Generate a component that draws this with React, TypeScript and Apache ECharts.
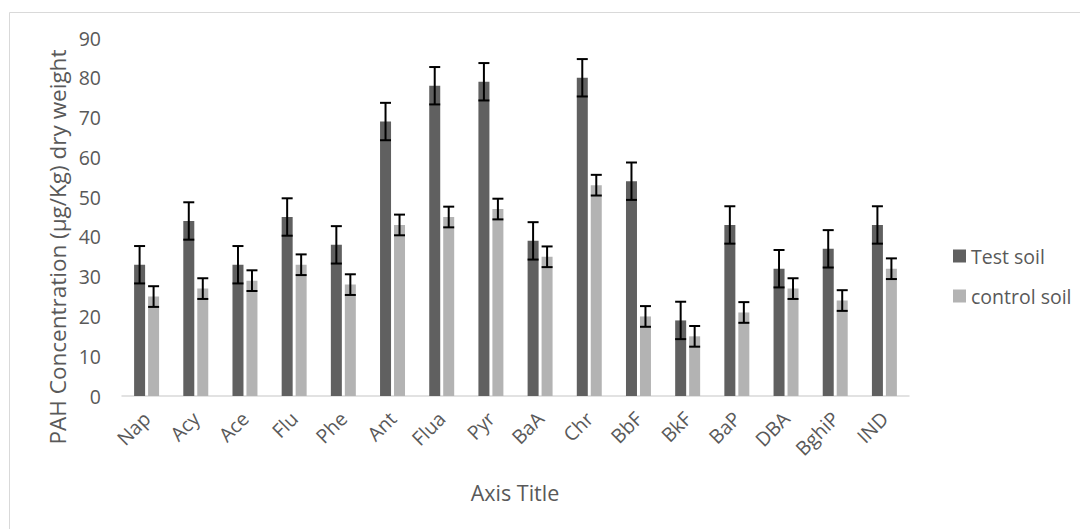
import React, { useEffect, useRef } from "react";
import * as echarts from "echarts";

const categories = ["Nap", "Acy", "Ace", "Flu", "Phe", "Ant", "Flua", "Pyr", "BaA", "Chr", "BbF", "BkF", "BaP", "DBA", "BghiP", "IND"];
const testSoil = [33, 44, 33, 45, 38, 69, 78, 79, 39, 80, 54, 19, 43, 32, 37, 43];
const controlSoil = [25, 27, 29, 33, 28, 43, 45, 47, 35, 53, 20, 15, 21, 27, 24, 32];
const testErr = [4.7, 4.7, 4.7, 4.7, 4.7, 4.7, 4.7, 4.7, 4.7, 4.7, 4.7, 4.7, 4.7, 4.7, 4.7, 4.7];
const controlErr = [2.6, 2.6, 2.6, 2.6, 2.6, 2.6, 2.6, 2.6, 2.6, 2.6, 2.6, 2.6, 2.6, 2.6, 2.6, 2.6];

const FONT = "'Open Sans', 'Noto Sans', sans-serif";
const TXT = "#595959";
const FS = 19.5;

function errorSeries(values: number[], errs: number[], offset: number) {
  return {
    type: "custom",
    silent: true,
    z: 10,
    encode: { x: 0, y: 1 },
    data: values.map((v, i) => [i, v, errs[i]]),
    renderItem: (params: any, api: any) => {
      const idx = api.value(0);
      const v = api.value(1);
      const e = api.value(2);
      const x = api.coord([idx, 0])[0] + offset;
      const yTop = api.coord([idx, v + e])[1];
      const yBot = api.coord([idx, v - e])[1];
      const half = 5.5;
      const style = { stroke: "#000", lineWidth: 2 };
      return {
        type: "group",
        children: [
          { type: "line", shape: { x1: x, y1: yTop, x2: x, y2: yBot }, style },
          { type: "line", shape: { x1: x - half, y1: yTop, x2: x + half, y2: yTop }, style },
          { type: "line", shape: { x1: x - half, y1: yBot, x2: x + half, y2: yBot }, style },
        ],
      };
    },
  };
}

export default function App() {
  const ref = useRef<HTMLDivElement>(null);
  useEffect(() => {
    if (!ref.current) return;
    const chart = echarts.init(ref.current, null, { renderer: "svg" });
    chart.setOption({
      animation: false,
      backgroundColor: "#fff",
      textStyle: { fontFamily: FONT },
      grid: { left: 122, top: 38, right: 171, bottom: 133, containLabel: false },
      legend: {
        orient: "vertical",
        left: 948,
        top: 241,
        itemWidth: 13,
        itemHeight: 13,
        itemGap: 20,
        icon: "rect",
        data: ["Test soil", "control soil"],
        textStyle: { fontSize: FS, color: TXT, fontFamily: FONT },
      },
      xAxis: {
        type: "category",
        data: categories,
        axisLine: { lineStyle: { color: "#d9d9d9", width: 1.5 } },
        axisTick: { show: false },
        axisLabel: { rotate: 45, fontSize: FS, color: TXT, margin: 19, interval: 0, fontFamily: FONT },
        splitLine: { show: false },
      },
      yAxis: {
        type: "value",
        min: 0,
        max: 90,
        interval: 10,
        axisLine: { show: false },
        axisTick: { show: false },
        splitLine: { show: false },
        axisLabel: { fontSize: FS, color: TXT, margin: 21, fontFamily: FONT },
      },
      series: [
        {
          name: "Test soil",
          type: "bar",
          data: testSoil,
          barWidth: 11,
          barGap: "27%",
          itemStyle: { color: "#606060" },
        },
        {
          name: "control soil",
          type: "bar",
          data: controlSoil,
          barWidth: 11,
          barGap: "27%",
          itemStyle: { color: "#b3b3b3" },
        },
        errorSeries(testSoil, testErr, -7),
        errorSeries(controlSoil, controlErr, 7),
      ],
      graphic: [
        {
          type: "rect",
          shape: { x: 9.5, y: 12.5, width: 1200, height: 700 },
          style: { fill: "none", stroke: "#d9d9d9", lineWidth: 1 },
          silent: true,
        },
        {
          type: "text",
          x: 57,
          y: 247,
          rotation: Math.PI / 2,
          style: {
            text: "PAH Concentration (µg/Kg) dry weight",
            fontSize: 22.5,
            fill: TXT,
            fontFamily: FONT,
            align: "center",
            verticalAlign: "middle",
          },
        },
        {
          type: "text",
          x: 515,
          y: 492,
          style: {
            text: "Axis Title",
            fontSize: 21.5,
            fill: TXT,
            fontFamily: FONT,
            align: "center",
            verticalAlign: "middle",
          },
        },
      ],
    });
    return () => chart.dispose();
  }, []);
  return <div ref={ref} style={{ position: "absolute", left: 0, top: 0, width: 1080, height: 529 }} />;
}
